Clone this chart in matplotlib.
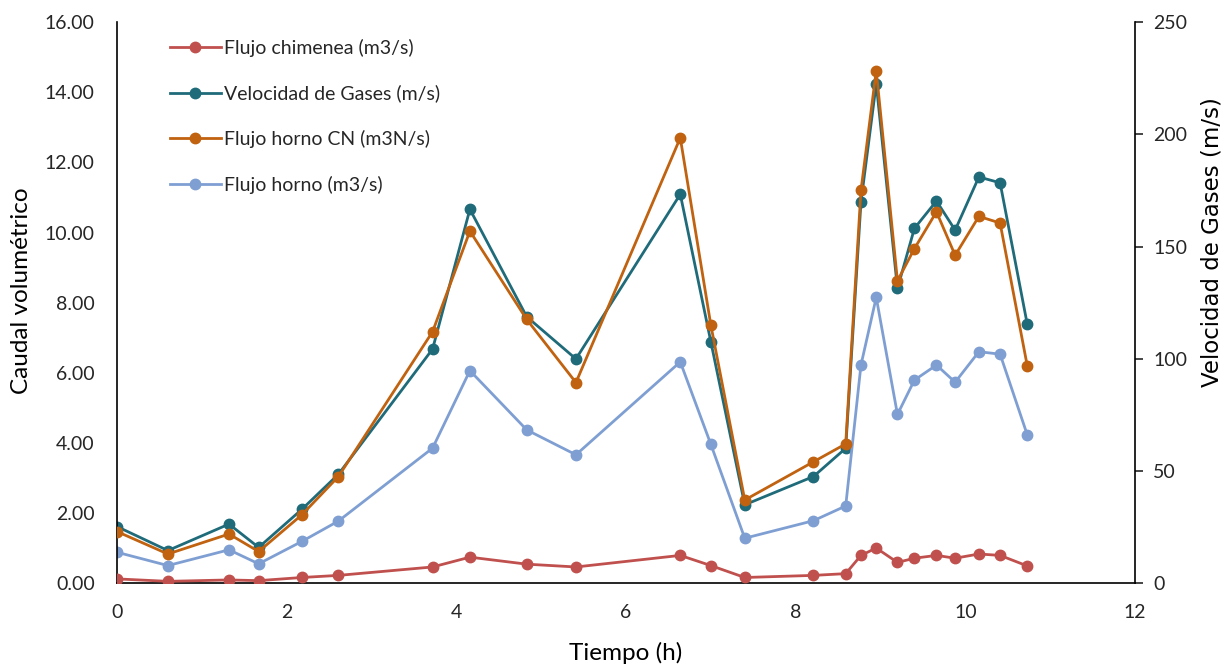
import numpy as np
import matplotlib
matplotlib.use("Agg")
import matplotlib.pyplot as plt
from matplotlib.ticker import FormatStrFormatter

# time (h)
tiempo = [0.0, 0.60, 1.32, 1.67, 2.18, 2.61, 3.72, 4.16, 4.83, 5.41, 6.64, 7.00,
          7.40, 8.21, 8.59, 8.77, 8.95, 9.20, 9.40, 9.66, 9.88, 10.16, 10.41, 10.73]

# left axis series (caudal volumetrico)
flujo_chimenea = [0.12, 0.05, 0.09, 0.07, 0.16, 0.22, 0.46, 0.74, 0.54, 0.46, 0.79, 0.50,
                  0.16, 0.22, 0.27, 0.79, 1.00, 0.59, 0.71, 0.79, 0.71, 0.83, 0.79, 0.49]
flujo_horno_cn = [1.47, 0.83, 1.40, 0.90, 1.95, 3.04, 7.17, 10.04, 7.52, 5.72, 12.70, 7.36,
                  2.37, 3.46, 3.97, 11.20, 14.62, 8.62, 9.54, 10.59, 9.35, 10.46, 10.27, 6.20]
flujo_horno = [0.88, 0.50, 0.95, 0.55, 1.19, 1.77, 3.85, 6.06, 4.37, 3.66, 6.31, 3.96,
               1.28, 1.78, 2.20, 6.22, 8.15, 4.81, 5.79, 6.22, 5.73, 6.60, 6.53, 4.23]

# right axis series (m/s)
velocidad = [25.2, 14.5, 26.3, 15.9, 32.9, 48.5, 104.3, 166.6, 118.7, 99.9, 173.3, 107.6,
             34.9, 47.5, 60.1, 169.9, 222.6, 131.3, 158.1, 170.3, 157.3, 181.0, 178.4, 115.4]

plt.rcParams['font.family'] = ['Lato', 'DejaVu Sans']
plt.rcParams['text.color'] = '#262626'
plt.rcParams['xtick.color'] = '#262626'
plt.rcParams['ytick.color'] = '#262626'

fig = plt.figure(figsize=(12.29, 6.71), dpi=100)
ax1 = fig.add_axes([0.0952, 0.131, 0.8283, 0.836])
ax2 = ax1.twinx()
ax1.set_zorder(ax2.get_zorder() + 1)
ax1.patch.set_visible(False)

mk = dict(marker='o', markersize=7.5, linewidth=2.0)
l1, = ax1.plot(tiempo, flujo_chimenea, color='#C0504D', label='Flujo chimenea (m3/s)', zorder=5, **mk)
l2, = ax2.plot(tiempo, velocidad, color='#1F6B7A', label='Velocidad de Gases (m/s)', **mk)
l3, = ax1.plot(tiempo, flujo_horno_cn, color='#C0620F', label='Flujo horno CN (m3N/s)', zorder=3, **mk)
l4, = ax1.plot(tiempo, flujo_horno, color='#7F9FD3', label='Flujo horno (m3/s)', zorder=2, **mk)

ax1.set_xlim(0, 12)
ax1.set_ylim(0, 16)
ax2.set_ylim(0, 250)
ax1.set_xticks(np.arange(0, 13, 2))
ax1.set_yticks(np.arange(0, 17, 2))
ax2.set_yticks(np.arange(0, 251, 50))
ax1.yaxis.set_major_formatter(FormatStrFormatter('%.2f'))

for ax in (ax1, ax2):
    ax.spines['top'].set_visible(False)
    for s in ax.spines.values():
        s.set_linewidth(1.2)
ax1.spines['right'].set_visible(False)
ax2.spines['left'].set_visible(False)
ax2.spines['bottom'].set_visible(False)

ax1.tick_params(axis='x', length=0, labelsize=14, pad=15)
ax1.tick_params(axis='y', length=0, labelsize=14, pad=16)
ax2.tick_params(axis='y', length=6, width=1.2, labelsize=14, pad=7)

ax1.set_xlabel('Tiempo (h)', fontsize=17.5)
ax1.xaxis.set_label_coords(0.5, -0.105)
ax1.set_ylabel('Caudal volumétrico', fontsize=17.5)
ax1.yaxis.set_label_coords(-0.0835, 0.522)
ax2.set_ylabel('Velocidad de Gases (m/s)', fontsize=16.5, family=['DejaVu Sans'])
ax2.yaxis.set_label_coords(1.064, 0.608)

ax1.legend(handles=[l1, l2, l3, l4], loc='upper left', bbox_to_anchor=(0.044, 0.984),
           frameon=False, fontsize=14, labelspacing=1.42, handlelength=2.65,
           handletextpad=0.15, borderaxespad=0.0)

fig.savefig('out.png', dpi=100)
